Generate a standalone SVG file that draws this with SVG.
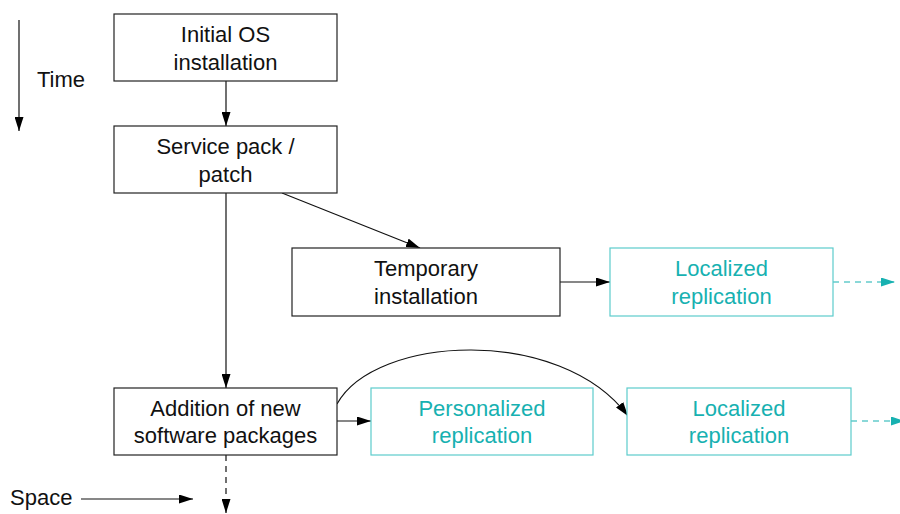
<svg xmlns="http://www.w3.org/2000/svg" width="900" height="514" viewBox="0 0 900 514">
<defs>
<style>
.box{fill:#fff;stroke:#222;stroke-width:1.2}
.tbox{fill:#fff;stroke:#5ccccc;stroke-width:1.2}
.t{font-family:"Liberation Sans",Arial,sans-serif;font-size:22px;text-anchor:middle;fill:#111}
.tt{font-family:"Liberation Sans",Arial,sans-serif;font-size:22px;text-anchor:middle;fill:#17b1b1}
.lbl{font-family:"Liberation Sans",Arial,sans-serif;font-size:22px;fill:#111}
.c{fill:none;stroke:#111;stroke-width:1.2}
.cd{fill:none;stroke:#111;stroke-width:1.2;stroke-dasharray:6,5}
.ct{fill:none;stroke:#17b1b1;stroke-width:1.2;stroke-dasharray:6,5}
</style>
<marker id="ah" viewBox="0 0 14 9" refX="14" refY="4.5" markerWidth="14" markerHeight="9" markerUnits="userSpaceOnUse" orient="auto">
<path d="M0,0 L14,4.5 L0,9 Z" fill="#000"/>
</marker>
<marker id="aht" viewBox="0 0 14 9" refX="14" refY="4.5" markerWidth="14" markerHeight="9" markerUnits="userSpaceOnUse" orient="auto">
<path d="M0,0 L14,4.5 L0,9 Z" fill="#17b1b1"/>
</marker>
</defs>

<g id="axes">
<line x1="19" y1="20" x2="19" y2="131" class="c" marker-end="url(#ah)"/>
<text x="37" y="87" class="lbl">Time</text>
<line x1="81" y1="499" x2="193" y2="499" class="c" marker-end="url(#ah)"/>
<text x="10" y="505" class="lbl">Space</text>
</g>

<g id="connectors">
<line x1="226" y1="81" x2="226" y2="126" class="c" marker-end="url(#ah)"/>
<line x1="282" y1="193" x2="420" y2="248" class="c" marker-end="url(#ah)"/>
<line x1="226" y1="193" x2="226" y2="388" class="c" marker-end="url(#ah)"/>
<line x1="560" y1="282" x2="610" y2="282" class="c" marker-end="url(#ah)"/>
<line x1="833" y1="282" x2="895" y2="282" class="ct" marker-end="url(#aht)"/>
<line x1="337" y1="421" x2="371" y2="421" class="c" marker-end="url(#ah)"/>
<path d="M337,404 C375,335 560,325 628,416" class="c" marker-end="url(#ah)"/>
<line x1="851" y1="421" x2="905" y2="421" class="ct" marker-end="url(#aht)"/>
<line x1="226" y1="455" x2="226" y2="513" class="cd" marker-end="url(#ah)"/>
</g>

<g id="n1">
<rect x="114" y="14" width="223" height="67" class="box"/>
<text x="225.5" y="42" class="t">Initial OS</text>
<text x="225.5" y="70" class="t">installation</text>
</g>
<g id="n2">
<rect x="114" y="126" width="223" height="67" class="box"/>
<text x="225.5" y="154" class="t">Service pack /</text>
<text x="225.5" y="182" class="t">patch</text>
</g>
<g id="n3">
<rect x="292" y="248" width="268" height="68" class="box"/>
<text x="426" y="276" class="t">Temporary</text>
<text x="426" y="304" class="t">installation</text>
</g>
<g id="n4">
<rect x="610" y="248" width="223" height="68" class="tbox"/>
<text x="721.5" y="276" class="tt">Localized</text>
<text x="721.5" y="304" class="tt">replication</text>
</g>
<g id="n5">
<rect x="114" y="388" width="223" height="67" class="box"/>
<text x="225.5" y="416" class="t">Addition of new</text>
<text x="225.5" y="443" class="t">software packages</text>
</g>
<g id="n6">
<rect x="371" y="388" width="222" height="67" class="tbox"/>
<text x="482" y="416" class="tt">Personalized</text>
<text x="482" y="443" class="tt">replication</text>
</g>
<g id="n7">
<rect x="627" y="388" width="224" height="67" class="tbox"/>
<text x="739" y="416" class="tt">Localized</text>
<text x="739" y="443" class="tt">replication</text>
</g>
</svg>
